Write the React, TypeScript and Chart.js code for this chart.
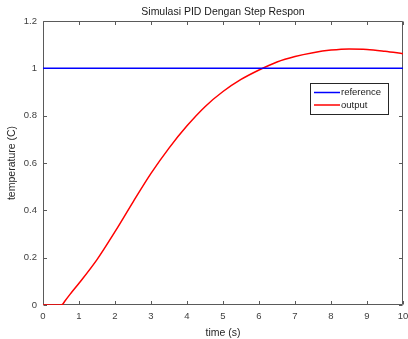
import React, { useEffect, useRef } from "react";
import { Chart, registerables } from "chart.js";

Chart.register(...registerables);

const chartTitle = "Simulasi PID Dengan Step Respon";
const xLabel = "time (s)";
const yLabel = "temperature (C)";

const outputTime = [0, 0.5, 0.55, 0.6, 0.75, 1.0, 1.5, 2.0, 2.5, 3.0, 3.5, 4.0, 4.5, 5.0, 5.5, 6.0, 6.5, 7.0, 7.5, 8.0, 8.5, 9.0, 9.5, 10.0];
const outputValue = [0, 0, 0.004, 0.015, 0.045, 0.092, 0.192, 0.31, 0.435, 0.556, 0.663, 0.757, 0.838, 0.902, 0.953, 0.993, 1.027, 1.05, 1.066, 1.077, 1.082, 1.08, 1.072, 1.062];

const referenceTime = [0, 10];
const referenceValue = [1, 1];

const xTickValues = [0, 1, 2, 3, 4, 5, 6, 7, 8, 9, 10];
const yTickValues = [0, 0.2, 0.4, 0.6, 0.8, 1.0, 1.2];

const seriesNames = ["reference", "output"];
const seriesColors = ["#0000ff", "#ff0000"];

const FONT = "'Liberation Sans', Arial, Helvetica, sans-serif";

const matlabPlugin = {
  id: "matlabAxes",
  beforeDatasetsDraw(chart: any) {
    const { ctx, chartArea } = chart;
    const { left, right, top, bottom } = chartArea;
    const xs = chart.scales.x;
    const ys = chart.scales.y;
    ctx.save();
    ctx.strokeStyle = "#5a5a5a";
    ctx.lineWidth = 1;
    ctx.beginPath();
    const L = Math.round(left) + 0.5;
    const R = Math.round(right) - 0.5;
    const T = Math.round(top) + 0.5;
    const B = Math.round(bottom) - 0.5;
    ctx.rect(L, T, R - L, B - T);
    const tl = 3.5;
    xTickValues.forEach((v) => {
      const px = Math.round(xs.getPixelForValue(v)) + 0.5;
      ctx.moveTo(px, B);
      ctx.lineTo(px, B - tl);
      ctx.moveTo(px, T);
      ctx.lineTo(px, T + tl);
    });
    yTickValues.forEach((v) => {
      const py = Math.round(ys.getPixelForValue(v)) + 0.5;
      ctx.moveTo(L, py);
      ctx.lineTo(L + tl, py);
      ctx.moveTo(R, py);
      ctx.lineTo(R - tl, py);
    });
    ctx.stroke();
    ctx.restore();
  },
  afterDraw(chart: any) {
    const { ctx, chartArea } = chart;
    ctx.save();
    ctx.fillStyle = "#1a1a1a";
    ctx.font = `10.5px ${FONT}`;
    ctx.textAlign = "center";
    ctx.textBaseline = "middle";
    ctx.fillText(chartTitle, (chartArea.left + chartArea.right) / 2, 12.5);

    const bx = chartArea.right - 93;
    const by = chartArea.top + 62;
    const bw = 78;
    const bh = 31;
    ctx.fillStyle = "#ffffff";
    ctx.fillRect(bx, by, bw, bh);
    ctx.strokeStyle = "#262626";
    ctx.lineWidth = 1;
    ctx.strokeRect(Math.round(bx) + 0.5, Math.round(by) + 0.5, bw, bh);
    ctx.font = `9.5px ${FONT}`;
    ctx.textAlign = "left";
    ctx.textBaseline = "middle";
    chart.data.datasets.forEach((ds: any, i: number) => {
      const y = by + 9.5 + i * 12.5;
      ctx.strokeStyle = ds.borderColor;
      ctx.lineWidth = 1.5;
      ctx.beginPath();
      ctx.moveTo(bx + 4, y);
      ctx.lineTo(bx + 30, y);
      ctx.stroke();
      ctx.fillStyle = "#1a1a1a";
      ctx.fillText(ds.label, bx + 31, y);
    });
    ctx.restore();
  },
};

export default function App() {
  const canvasRef = useRef<HTMLCanvasElement | null>(null);

  useEffect(() => {
    if (!canvasRef.current) return;
    const chart = new Chart(canvasRef.current, {
      type: "line",
      data: {
        datasets: [
          {
            label: seriesNames[0],
            data: referenceTime.map((t, i) => ({ x: t, y: referenceValue[i] })),
            borderColor: seriesColors[0],
            borderWidth: 1.5,
            pointRadius: 0,
            fill: false,
          },
          {
            label: seriesNames[1],
            data: outputTime.map((t, i) => ({ x: t, y: outputValue[i] })),
            borderColor: seriesColors[1],
            borderWidth: 1.5,
            pointRadius: 0,
            fill: false,
            cubicInterpolationMode: "monotone",
          },
        ],
      },
      options: {
        responsive: false,
        animation: false,
        events: [],
        layout: { padding: { top: 21, right: 5, left: 0, bottom: 0 } },
        plugins: {
          legend: { display: false },
          title: { display: false },
          tooltip: { enabled: false },
        },
        scales: {
          x: {
            type: "linear",
            min: 0,
            max: 10,
            grid: { display: false, drawTicks: false },
            border: { display: false },
            afterBuildTicks: (s: any) => {
              s.ticks = xTickValues.map((v) => ({ value: v }));
            },
            afterFit: (s: any) => {
              s.height = 34;
              s.paddingLeft = 0;
              s.paddingRight = 0;
            },
            ticks: {
              autoSkip: false,
              maxRotation: 0,
              padding: 6,
              color: "#404040",
              font: { family: FONT, size: 9.5 },
              callback: (v: any) => String(v),
            },
            title: {
              display: true,
              text: xLabel,
              color: "#262626",
              font: { family: FONT, size: 10.5 },
              padding: { top: 0, bottom: 0 },
            },
          },
          y: {
            type: "linear",
            min: 0,
            max: 1.2,
            grid: { display: false, drawTicks: false },
            border: { display: false },
            afterBuildTicks: (s: any) => {
              s.ticks = yTickValues.map((v) => ({ value: v }));
            },
            afterFit: (s: any) => {
              s.width = 43;
              s.paddingTop = 0;
              s.paddingBottom = 0;
            },
            ticks: {
              autoSkip: false,
              padding: 6,
              color: "#404040",
              font: { family: FONT, size: 9.5 },
              callback: (v: any) => String(Number(Number(v).toFixed(1))),
            },
            title: {
              display: true,
              text: yLabel,
              color: "#262626",
              font: { family: FONT, size: 10.5 },
              padding: { top: 6, bottom: 0 },
            },
          },
        },
      },
      plugins: [matlabPlugin],
    } as any);
    return () => chart.destroy();
  }, []);

  return (
    <div style={{ position: "fixed", left: 0, top: 0, width: 408, height: 339, background: "#fff" }}>
      <canvas ref={canvasRef} width={408} height={339} style={{ display: "block" }} />
    </div>
  );
}
